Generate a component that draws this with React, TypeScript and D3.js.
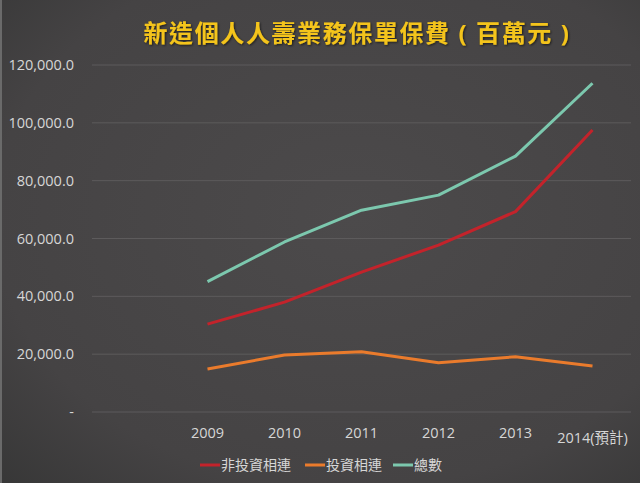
import React from 'react'
import * as d3 from 'd3'

const years = ['', '2009', '2010', '2011', '2012', '2013', '2014(預計)']
const nonLinked = [30400, 38000, 48400, 57700, 69300, 97500]
const linked = [14900, 19700, 20800, 17000, 19100, 15900]
const total = [45100, 58800, 69800, 75000, 88500, 113700]
const yTicks = [0, 20000, 40000, 60000, 80000, 100000, 120000]
const seriesNames = ['非投資相連', '投資相連', '總數']
const COLORS = ['#c3232b', '#ea7b2c', '#7cc8ae']

const W = 640
const H = 483
const FONT = '"Open Sans", "Noto Sans CJK TC", sans-serif'

const App = () => {
  const x = d3.scaleBand().domain(years).range([92, 631])
  const y = d3.scaleLinear().domain([0, 120000]).range([412, 65])
  const cx = (i: number) => (x(years[i + 1]) as number) + x.bandwidth() / 2

  const line = d3.line<number>()
    .x((_, i) => cx(i))
    .y(d => y(d))

  const series = [nonLinked, linked, total]
  const fmt = (v: number) => (v === 0 ? '-' : d3.format(',.1f')(v))

  return (
    <svg width={W} height={H} style={{ position: 'absolute', left: 0, top: 0 }}>
      <defs>
        <radialGradient id="bg" cx="0.55" cy="0.45" r="0.8">
          <stop offset="0" stopColor="#4c4a4b" />
          <stop offset="0.7" stopColor="#454344" />
          <stop offset="1" stopColor="#363636" />
        </radialGradient>
        <filter id="glow" x="-10%" y="-30%" width="120%" height="160%">
          <feDropShadow dx="1" dy="1" stdDeviation="1" floodColor="#000" floodOpacity="0.6" />
        </filter>
      </defs>
      <rect width={W} height={H} fill="url(#bg)" />
      <rect width={2} height={H} fill="#6a6a6a" />

      <text
        x={357}
        y={42}
        textAnchor="middle"
        fill="#f4c41a"
        fontFamily={FONT}
        fontWeight="bold"
        fontSize={24}
        letterSpacing={1.6}
        filter="url(#glow)"
      >
        新造個人人壽業務保單保費 ( 百萬元 )
      </text>

      {yTicks.map(t => (
        <g key={t}>
          <line x1={92} x2={631} y1={y(t)} y2={y(t)} stroke="#5d5b5c" strokeWidth={1} />
          <text
            x={74}
            y={y(t) + 5}
            textAnchor="end"
            fill="#d6d6d6"
            fontFamily={FONT}
            fontSize={14.5}
          >
            {fmt(t)}
          </text>
        </g>
      ))}

      {years.slice(1).map((yr, i) => (
        <text
          key={yr}
          x={cx(i)}
          y={i === 5 ? 443 : 438}
          textAnchor="middle"
          fill="#d6d6d6"
          fontFamily={FONT}
          fontSize={14.5}
        >
          {yr}
        </text>
      ))}

      {series.map((s, k) => (
        <path
          key={k}
          d={line(s) as string}
          fill="none"
          stroke={COLORS[k]}
          strokeWidth={3}
          strokeLinejoin="round"
        />
      ))}

      {seriesNames.map((n, k) => {
        const lx = [200, 305, 393][k]
        return (
          <g key={n}>
            <line x1={lx} x2={lx + 20} y1={465} y2={465} stroke={COLORS[k]} strokeWidth={3} />
            <text x={lx + 21} y={470} fill="#d6d6d6" fontFamily={FONT} fontSize={14}>
              {n}
            </text>
          </g>
        )
      })}
    </svg>
  )
}

export default App
